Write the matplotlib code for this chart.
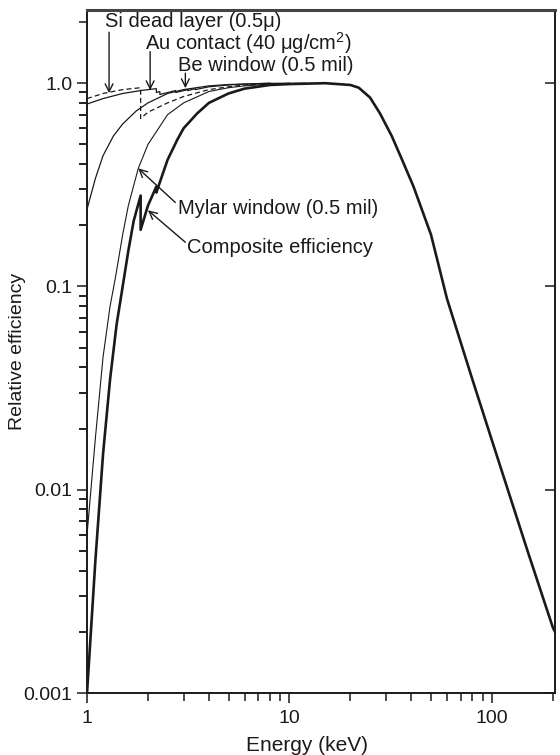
import matplotlib
matplotlib.use("Agg")
import matplotlib.pyplot as plt
from matplotlib.ticker import NullFormatter, FixedLocator
from matplotlib.lines import TICKLEFT

plt.rcParams['font.family'] = ['Liberation Sans', 'DejaVu Sans']
plt.rcParams['mathtext.fontset'] = 'custom'
plt.rcParams['mathtext.rm'] = 'Liberation Sans'

# energia (keV) y eficiencia relativa
si_e = [1.0, 1.2, 1.5, 1.84, 1.84, 2.0, 2.5, 3.0, 4.0, 5.0, 6.0, 8.0]
si_v = [0.84, 0.89, 0.93, 0.95, 0.67, 0.72, 0.80, 0.86, 0.93, 0.96, 0.98, 0.995]

au_e = [1.0, 1.2, 1.5, 1.84, 2.2, 2.2, 2.29, 2.29, 2.74, 2.74, 3.15, 3.15, 3.43, 3.43, 4.0, 5.0, 6.0, 8.0]
au_v = [0.79, 0.84, 0.89, 0.92, 0.94, 0.90, 0.91, 0.88, 0.92, 0.90, 0.93, 0.92, 0.94, 0.93, 0.96, 0.98, 0.99, 1.0]

be_e = [1.0, 1.1, 1.2, 1.35, 1.5, 1.75, 2.0, 2.5, 3.0, 4.0, 5.0, 6.0, 8.0, 10.0]
be_v = [0.24, 0.34, 0.44, 0.55, 0.63, 0.73, 0.80, 0.89, 0.93, 0.97, 0.985, 0.99, 0.998, 1.0]

my_e = [1.0, 1.1, 1.2, 1.3, 1.38, 1.5, 1.6, 1.79, 2.0, 2.5, 3.0, 4.0, 5.0, 6.0, 8.0, 10.0, 12.0]
my_v = [0.006, 0.018, 0.045, 0.08, 0.11, 0.18, 0.25, 0.38, 0.50, 0.70, 0.80, 0.91, 0.95, 0.97, 0.99, 0.998, 1.0]

comp_e = [1.0, 1.1, 1.2, 1.3, 1.4, 1.5, 1.6, 1.7, 1.84, 1.84, 2.0, 2.2, 2.2, 2.5, 2.8, 3.0, 3.5, 4.0,
          5.0, 6.0, 8.0, 10.0, 15.0, 20.0, 22.0, 25.0, 28.0, 32.0, 36.0, 41.0, 50.0, 60.0, 80.0,
          100.0, 124.0, 150.0, 200.0, 205.0]
comp_v = [0.001, 0.0045, 0.015, 0.035, 0.065, 0.10, 0.15, 0.21, 0.28, 0.19, 0.25, 0.31, 0.29, 0.42,
          0.53, 0.60, 0.71, 0.80, 0.89, 0.94, 0.98, 0.99, 1.0, 0.98, 0.95, 0.85, 0.71, 0.55, 0.42,
          0.31, 0.18, 0.087, 0.035, 0.0175, 0.009, 0.005, 0.0021, 0.0020]

fig = plt.figure(figsize=(5.6, 7.55), dpi=100)
ax = fig.add_axes([0.1554, 0.0821, 0.8357, 0.9046])

ink = '#1a1a1a'
ax.plot(si_e, si_v, color=ink, lw=0.9, ls=(0, (4, 2.5)))
ax.plot(au_e, au_v, color=ink, lw=0.9)
ax.plot(be_e, be_v, color=ink, lw=0.9)
ax.plot(my_e, my_v, color=ink, lw=0.8)
ax.plot(comp_e, comp_v, color=ink, lw=1.9)

ax.set_xscale('log')
ax.set_yscale('log')
ax.set_xlim(1, 205)
ax.set_ylim(0.001, 2.29)

ax.set_xticks([1, 10, 100], ['1', '10', '100'])
ax.set_yticks([0.001, 0.01, 0.1, 1.0], ['0.001', '0.01', '0.1', '1.0'])
ax.xaxis.set_minor_locator(FixedLocator([m * 10 ** k for k in range(0, 3) for m in range(2, 10)]))
ax.xaxis.set_minor_formatter(NullFormatter())
ax.tick_params(which='major', length=7, width=1.1, labelsize=14, colors=ink)
ax.tick_params(which='minor', length=6, width=1.1, colors=ink)
ax.tick_params(axis='x', pad=5)
# ticks mayores tambien a la derecha, hacia adentro
ax.tick_params(axis='y', which='major', right=True)
fig.canvas.draw()
for t in ax.yaxis.get_major_ticks():
    t.tick2line.set_marker(TICKLEFT)

# ticks menores del eje y (2..9 de cada decada), dibujados a mano
y_minor = [m * 10.0 ** k for k in range(-3, 0) for m in range(2, 10)]
for v in y_minor:
    ax.plot([-0.0178, 0], [v, v], transform=ax.get_yaxis_transform(), color=ink, lw=1.1,
            clip_on=False, solid_capstyle='butt')

for s in ['left', 'bottom', 'right']:
    ax.spines[s].set_linewidth(1.4)
    ax.spines[s].set_color(ink)
ax.spines['top'].set_linewidth(2.2)
ax.spines['top'].set_color('#444444')

ax.set_xlabel('Energy (keV)', fontsize=15, color=ink)
ax.xaxis.set_label_coords(0.47, -0.063)
ax.set_ylabel('Relative efficiency', fontsize=14, color=ink)
ax.yaxis.set_label_coords(-0.13, 0.5)

flecha = dict(arrowstyle='->', color=ink, lw=1.0, shrinkA=0, shrinkB=0, mutation_scale=14)

# Etiquetas con flechas
ax.annotate('', xy=(1.285, 0.893), xytext=(1.285, 1.78), arrowprops=flecha)
ax.annotate('', xy=(2.05, 0.924), xytext=(2.05, 1.43), arrowprops=flecha)
ax.annotate('', xy=(3.06, 0.945), xytext=(3.06, 1.12), arrowprops=flecha)
ax.annotate('', xy=(1.79, 0.381), xytext=(2.73, 0.259), arrowprops=flecha)
ax.annotate('', xy=(2.0, 0.237), xytext=(3.06, 0.165), arrowprops=flecha)

fs = 14.5
ax.text(1.23, 2.02, 'Si dead layer (0.5\u03bc)', fontsize=fs, color=ink, va='center', ha='left')
ax.text(1.94, 1.575, 'Au contact (40 \u03bcg/cm$^{2}$)', fontsize=fs, color=ink, va='center', ha='left')
ax.text(2.82, 1.227, 'Be window (0.5 mil)', fontsize=fs, color=ink, va='center', ha='left')
ax.text(2.82, 0.242, 'Mylar window (0.5 mil)', fontsize=fs, color=ink, va='center', ha='left')
ax.text(3.12, 0.156, 'Composite efficiency', fontsize=fs, color=ink, va='center', ha='left')

fig.savefig('out.png', dpi=100)
